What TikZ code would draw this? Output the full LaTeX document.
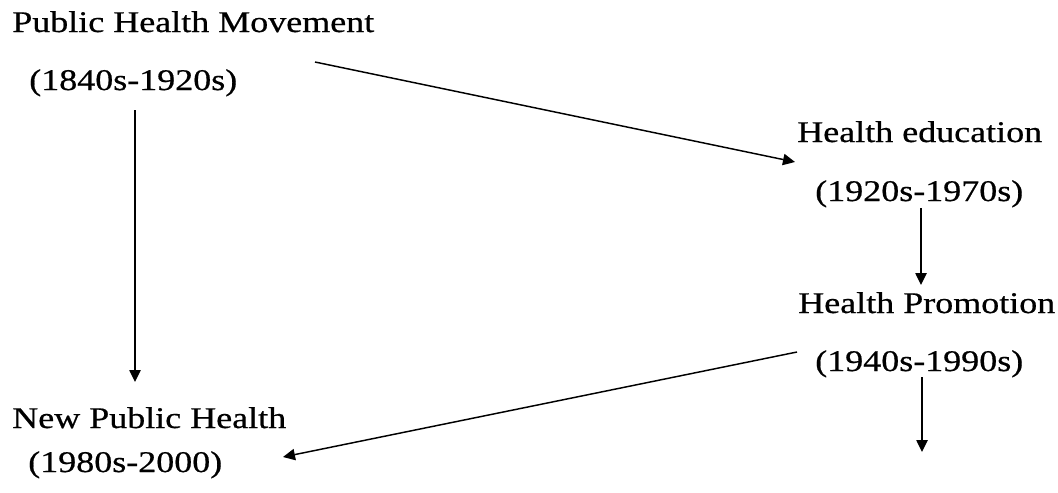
\documentclass[tikz,border=0pt]{standalone}
\usepackage{fontspec}
\setmainfont{Liberation Serif}[FakeStretch=1.2,FakeBold=0.6]
\usetikzlibrary{arrows.meta}
\tikzset{
  lbl/.style={anchor=base west, inner sep=0pt, font=\fontsize{22.5pt}{25pt}\selectfont},
  conn/.style={line width=1.1pt, -{Triangle[length=9pt,width=8.5pt]}}
}
\begin{document}
\begin{tikzpicture}[x=0.75pt,y=-0.75pt]
\useasboundingbox[fill=white] (0,0) rectangle (1058,493);
% text nodes
\node[lbl] (phm)  at (12,32)   {Public Health Movement};
\node[lbl] (phmd) at (29,90)   {(1840s-1920s)};
\node[lbl] (he)   at (797,142) {Health education};
\node[lbl] (hed)  at (815,201) {(1920s-1970s)};
\node[lbl] (hp)   at (798,313) {Health Promotion};
\node[lbl] (hpd)  at (815,371) {(1940s-1990s)};
\node[lbl] (nph)  at (12,428)  {New Public Health};
\node[lbl] (nphd) at (28,472)  {(1980s-2000)};
% connector ends
\coordinate (a1s) at (315,62);
\coordinate (a1e) at (795,162);
\coordinate (a2s) at (135,110);
\coordinate (a2e) at (135,382);
\coordinate (a3s) at (921,208);
\coordinate (a3e) at (921,285);
\coordinate (a4s) at (797,352);
\coordinate (a4e) at (283,457);
\coordinate (a5s) at (922,377);
\coordinate (a5e) at (922,452);
% connectors
\draw[conn] (a1s) -- (a1e);
\draw[conn] (a2s) -- (a2e);
\draw[conn] (a3s) -- (a3e);
\draw[conn] (a4s) -- (a4e);
\draw[conn] (a5s) -- (a5e);
\end{tikzpicture}
\end{document}
